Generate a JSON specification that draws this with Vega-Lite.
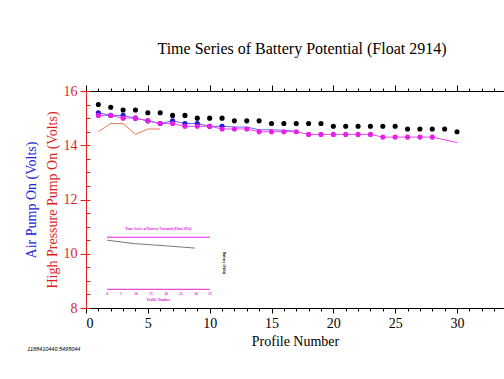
{
  "$schema": "https://vega.github.io/schema/vega-lite/v6.json",
  "autosize": "none",
  "width": 418,
  "height": 217,
  "padding": {"left": 86, "top": 91, "right": 0, "bottom": 71},
  "background": "white",
  "config": {"view": {"stroke": null}, "font": "Liberation Serif"},
  "title": {"text": "Time Series of Battery Potential (Float 2914)", "font": "Liberation Serif", "fontSize": 16, "fontWeight": "normal", "color": "black", "offset": 27, "dx": 7},
  "datasets": {
    "dots": [
      {"series": "black", "profile": 1, "volts": 15.5}, {"series": "black", "profile": 2, "volts": 15.4}, {"series": "black", "profile": 3, "volts": 15.3}, {"series": "black", "profile": 4, "volts": 15.3}, {"series": "black", "profile": 5, "volts": 15.2}, {"series": "black", "profile": 6, "volts": 15.2}, {"series": "black", "profile": 7, "volts": 15.1}, {"series": "black", "profile": 8, "volts": 15.1}, {"series": "black", "profile": 9, "volts": 15.0}, {"series": "black", "profile": 10, "volts": 15.0}, {"series": "black", "profile": 11, "volts": 15.0}, {"series": "black", "profile": 12, "volts": 14.9}, {"series": "black", "profile": 13, "volts": 14.9}, {"series": "black", "profile": 14, "volts": 14.9}, {"series": "black", "profile": 15, "volts": 14.8}, {"series": "black", "profile": 16, "volts": 14.8}, {"series": "black", "profile": 17, "volts": 14.8}, {"series": "black", "profile": 18, "volts": 14.8}, {"series": "black", "profile": 19, "volts": 14.8}, {"series": "black", "profile": 20, "volts": 14.7}, {"series": "black", "profile": 21, "volts": 14.7}, {"series": "black", "profile": 22, "volts": 14.7}, {"series": "black", "profile": 23, "volts": 14.7}, {"series": "black", "profile": 24, "volts": 14.7}, {"series": "black", "profile": 25, "volts": 14.7}, {"series": "black", "profile": 26, "volts": 14.6}, {"series": "black", "profile": 27, "volts": 14.6}, {"series": "black", "profile": 28, "volts": 14.6}, {"series": "black", "profile": 29, "volts": 14.6}, {"series": "black", "profile": 30, "volts": 14.5},
      {"series": "blue", "profile": 1, "volts": 15.2}, {"series": "blue", "profile": 2, "volts": 15.1}, {"series": "blue", "profile": 3, "volts": 15.1}, {"series": "blue", "profile": 4, "volts": 15.0}, {"series": "blue", "profile": 5, "volts": 14.9}, {"series": "blue", "profile": 6, "volts": 14.8}, {"series": "blue", "profile": 7, "volts": 14.9}, {"series": "blue", "profile": 8, "volts": 14.8}, {"series": "blue", "profile": 9, "volts": 14.8}, {"series": "blue", "profile": 10, "volts": 14.7}, {"series": "blue", "profile": 11, "volts": 14.7},
      {"series": "magenta", "profile": 1, "volts": 15.1}, {"series": "magenta", "profile": 2, "volts": 15.1}, {"series": "magenta", "profile": 3, "volts": 15.0}, {"series": "magenta", "profile": 4, "volts": 15.0}, {"series": "magenta", "profile": 5, "volts": 14.9}, {"series": "magenta", "profile": 6, "volts": 14.8}, {"series": "magenta", "profile": 7, "volts": 14.8}, {"series": "magenta", "profile": 8, "volts": 14.7}, {"series": "magenta", "profile": 9, "volts": 14.7}, {"series": "magenta", "profile": 10, "volts": 14.7}, {"series": "magenta", "profile": 11, "volts": 14.6}, {"series": "magenta", "profile": 12, "volts": 14.6}, {"series": "magenta", "profile": 13, "volts": 14.6}, {"series": "magenta", "profile": 14, "volts": 14.5}, {"series": "magenta", "profile": 15, "volts": 14.5}, {"series": "magenta", "profile": 16, "volts": 14.5}, {"series": "magenta", "profile": 17, "volts": 14.5}, {"series": "magenta", "profile": 18, "volts": 14.4}, {"series": "magenta", "profile": 19, "volts": 14.4}, {"series": "magenta", "profile": 20, "volts": 14.4}, {"series": "magenta", "profile": 21, "volts": 14.4}, {"series": "magenta", "profile": 22, "volts": 14.4}, {"series": "magenta", "profile": 23, "volts": 14.4}, {"series": "magenta", "profile": 24, "volts": 14.3}, {"series": "magenta", "profile": 25, "volts": 14.3}, {"series": "magenta", "profile": 26, "volts": 14.3}, {"series": "magenta", "profile": 27, "volts": 14.3}, {"series": "magenta", "profile": 28, "volts": 14.3}
    ],
    "traces": [
      {"series": "orange", "profile": 1, "volts": 14.5}, {"series": "orange", "profile": 2, "volts": 14.8}, {"series": "orange", "profile": 3, "volts": 14.8}, {"series": "orange", "profile": 4, "volts": 14.4}, {"series": "orange", "profile": 5, "volts": 14.6}, {"series": "orange", "profile": 6, "volts": 14.6},
      {"series": "blue", "profile": 1, "volts": 15.2}, {"series": "blue", "profile": 2, "volts": 15.1}, {"series": "blue", "profile": 3, "volts": 15.1}, {"series": "blue", "profile": 4, "volts": 15.0}, {"series": "blue", "profile": 5, "volts": 14.9}, {"series": "blue", "profile": 6, "volts": 14.8}, {"series": "blue", "profile": 7, "volts": 14.9}, {"series": "blue", "profile": 8, "volts": 14.8}, {"series": "blue", "profile": 9, "volts": 14.8}, {"series": "blue", "profile": 10, "volts": 14.7}, {"series": "blue", "profile": 11, "volts": 14.7}, {"series": "blue", "profile": 12, "volts": 14.67}, {"series": "blue", "profile": 13, "volts": 14.67}, {"series": "blue", "profile": 14, "volts": 14.57}, {"series": "blue", "profile": 15, "volts": 14.57}, {"series": "blue", "profile": 16, "volts": 14.55}, {"series": "blue", "profile": 17, "volts": 14.52},
      {"series": "magenta", "profile": 1, "volts": 15.1}, {"series": "magenta", "profile": 2, "volts": 15.1}, {"series": "magenta", "profile": 3, "volts": 15.0}, {"series": "magenta", "profile": 4, "volts": 15.0}, {"series": "magenta", "profile": 5, "volts": 14.9}, {"series": "magenta", "profile": 6, "volts": 14.8}, {"series": "magenta", "profile": 7, "volts": 14.8}, {"series": "magenta", "profile": 8, "volts": 14.7}, {"series": "magenta", "profile": 9, "volts": 14.7}, {"series": "magenta", "profile": 10, "volts": 14.7}, {"series": "magenta", "profile": 11, "volts": 14.6}, {"series": "magenta", "profile": 12, "volts": 14.6}, {"series": "magenta", "profile": 13, "volts": 14.6}, {"series": "magenta", "profile": 14, "volts": 14.5}, {"series": "magenta", "profile": 15, "volts": 14.5}, {"series": "magenta", "profile": 16, "volts": 14.5}, {"series": "magenta", "profile": 17, "volts": 14.5}, {"series": "magenta", "profile": 18, "volts": 14.4}, {"series": "magenta", "profile": 19, "volts": 14.4}, {"series": "magenta", "profile": 20, "volts": 14.4}, {"series": "magenta", "profile": 21, "volts": 14.4}, {"series": "magenta", "profile": 22, "volts": 14.4}, {"series": "magenta", "profile": 23, "volts": 14.4}, {"series": "magenta", "profile": 24, "volts": 14.3}, {"series": "magenta", "profile": 25, "volts": 14.3}, {"series": "magenta", "profile": 26, "volts": 14.3}, {"series": "magenta", "profile": 27, "volts": 14.3}, {"series": "magenta", "profile": 28, "volts": 14.3}, {"series": "magenta", "profile": 30, "volts": 14.1}
    ],
    "insetRules": [
      {"x": 1.7, "x2": 10.02, "y": 10.61},
      {"x": 1.7, "x2": 10.02, "y": 8.69}
    ],
    "insetLine": [
      {"x": 1.7, "y": 10.5}, {"x": 4.0, "y": 10.37}, {"x": 6.5, "y": 10.29}, {"x": 8.8, "y": 10.21}
    ],
    "insetLabels": [
      {"x": 1.70, "y": 8.5, "label": "0"}, {"x": 2.83, "y": 8.5, "label": "5"}, {"x": 4.04, "y": 8.5, "label": "10"}, {"x": 5.25, "y": 8.5, "label": "15"}, {"x": 6.47, "y": 8.5, "label": "20"}, {"x": 7.68, "y": 8.5, "label": "25"}, {"x": 8.89, "y": 8.5, "label": "30"}, {"x": 10.02, "y": 8.5, "label": "35"},
      {"x": 5.86, "y": 8.28, "label": "Profile Number"},
      {"x": 5.86, "y": 10.92, "label": "Time Series of Battery Potential (Float 2914)"}
    ],
    "notes": [
      {"x": 11.16, "y": 9.65, "label": "Battery (Volts)", "kind": "vertical"},
      {"x": -2.6, "y": 6.48, "label": "1188410440.5495044", "kind": "stamp"}
    ]
  },
  "resolve": {"axis": {"x": "independent", "y": "independent"}},
  "layer": [
    {
      "data": {"name": "traces"},
      "transform": [{"filter": "datum.series === 'orange'"}],
      "mark": {"type": "line", "strokeWidth": 1, "color": "#f07858"},
      "encoding": {
        "x": {"field": "profile", "type": "quantitative", "scale": {"domain": [0, 33.8], "nice": false, "zero": false},
          "axis": {"orient": "top", "values": [0,1,2,3,4,5,6,7,8,9,10,11,12,13,14,15,16,17,18,19,20,21,22,23,24,25,26,27,28,29,30,31,32,33], "labels": false, "title": null, "grid": false, "tickSize": 3, "tickColor": "black", "domainColor": "black"}},
        "y": {"field": "volts", "type": "quantitative", "scale": {"domain": [8, 16], "nice": false, "zero": false},
          "axis": {"orient": "left", "values": [8,8.5,9,9.5,10,10.5,11,11.5,12,12.5,13,13.5,14,14.5,15,15.5,16], "labels": false, "tickSize": -4, "tickColor": "#dc1e1e", "domainColor": "#dc1e1e", "grid": false, "title": "Air Pump On (Volts)", "titleColor": "#2222dd", "titleFont": "Liberation Serif", "titleFontSize": 14, "titleFontWeight": "normal", "titlePadding": 47}}
      }
    },
    {
      "data": {"name": "traces"},
      "transform": [{"filter": "datum.series === 'blue'"}],
      "mark": {"type": "line", "strokeWidth": 1, "color": "#6a5cff"},
      "encoding": {
        "x": {"field": "profile", "type": "quantitative", "scale": {"domain": [0, 33.8], "nice": false, "zero": false},
          "axis": {"orient": "top", "values": [0,5,10,15,20,25,30], "labels": false, "title": null, "grid": false, "tickSize": 6, "tickColor": "black", "domainColor": "black"}},
        "y": {"field": "volts", "type": "quantitative", "axis": null}
      }
    },
    {
      "data": {"name": "traces"},
      "transform": [{"filter": "datum.series === 'magenta'"}],
      "mark": {"type": "line", "strokeWidth": 1, "color": "#f040f0"},
      "encoding": {
        "x": {"field": "profile", "type": "quantitative",
          "axis": {"orient": "bottom", "values": [0,1,2,3,4,5,6,7,8,9,10,11,12,13,14,15,16,17,18,19,20,21,22,23,24,25,26,27,28,29,30,31,32,33], "labels": false, "title": null, "grid": false, "tickSize": 3, "tickColor": "black", "domainColor": "black"}},
        "y": {"field": "volts", "type": "quantitative", "axis": null}
      }
    },
    {
      "data": {"name": "dots"},
      "transform": [{"filter": "datum.series === 'blue'"}],
      "mark": {"type": "circle", "size": 26, "opacity": 1, "color": "#1a1ad8"},
      "encoding": {
        "x": {"field": "profile", "type": "quantitative", "axis": null},
        "y": {"field": "volts", "type": "quantitative", "axis": null}
      }
    },
    {
      "data": {"name": "dots"},
      "transform": [{"filter": "datum.series === 'magenta'"}],
      "mark": {"type": "circle", "size": 26, "opacity": 1, "color": "#e61ee6"},
      "encoding": {
        "x": {"field": "profile", "type": "quantitative", "axis": null},
        "y": {"field": "volts", "type": "quantitative", "axis": null}
      }
    },
    {
      "data": {"name": "dots"},
      "transform": [{"filter": "datum.series === 'black'"}],
      "mark": {"type": "circle", "size": 26, "opacity": 1, "color": "black"},
      "encoding": {
        "x": {"field": "profile", "type": "quantitative",
          "axis": {"orient": "bottom", "values": [0,5,10,15,20,25,30], "title": "Profile Number", "grid": false, "tickSize": 5, "tickColor": "black", "domainColor": "black", "labelFont": "Liberation Serif", "labelFontSize": 14, "labelColor": "black", "labelPadding": 3, "titleFont": "Liberation Serif", "titleFontSize": 14, "titleFontWeight": "normal", "titleColor": "black", "titlePadding": 4}},
        "y": {"field": "volts", "type": "quantitative",
          "axis": {"orient": "left", "values": [8,10,12,14,16], "title": "High Pressure Pump On (Volts)", "grid": false, "tickSize": 6, "tickColor": "#dc1e1e", "domainColor": "#dc1e1e", "labelFont": "Liberation Serif", "labelFontSize": 14, "labelColor": "#dc1e1e", "labelPadding": 3, "titleFont": "Liberation Serif", "titleFontSize": 14, "titleFontWeight": "normal", "titleColor": "#dc1e1e", "titlePadding": 4}}
      }
    },
    {
      "data": {"name": "insetRules"},
      "mark": {"type": "rule", "color": "#e020e0", "strokeWidth": 1},
      "encoding": {
        "x": {"field": "x", "type": "quantitative", "axis": null},
        "x2": {"field": "x2"},
        "y": {"field": "y", "type": "quantitative", "axis": null}
      }
    },
    {
      "data": {"name": "insetLine"},
      "mark": {"type": "line", "color": "#555555", "strokeWidth": 0.8},
      "encoding": {
        "x": {"field": "x", "type": "quantitative", "axis": null},
        "y": {"field": "y", "type": "quantitative", "axis": null}
      }
    },
    {
      "data": {"name": "insetLabels"},
      "mark": {"type": "text", "color": "#e020e0", "fontSize": 3.5, "fontWeight": "bold", "font": "Liberation Serif"},
      "encoding": {
        "x": {"field": "x", "type": "quantitative", "axis": null},
        "y": {"field": "y", "type": "quantitative", "axis": null},
        "text": {"field": "label"}
      }
    },
    {
      "data": {"name": "notes"},
      "transform": [{"filter": "datum.kind === 'vertical'"}],
      "mark": {"type": "text", "color": "black", "fontSize": 3.5, "angle": 90, "fontWeight": "bold", "clip": false},
      "encoding": {
        "x": {"field": "x", "type": "quantitative", "axis": null},
        "y": {"field": "y", "type": "quantitative", "axis": null},
        "text": {"field": "label"}
      }
    },
    {
      "data": {"name": "notes"},
      "transform": [{"filter": "datum.kind === 'stamp'"}],
      "mark": {"type": "text", "color": "black", "fontSize": 5.5, "fontStyle": "italic", "font": "Liberation Sans", "clip": false},
      "encoding": {
        "x": {"field": "x", "type": "quantitative", "axis": null},
        "y": {"field": "y", "type": "quantitative", "axis": null},
        "text": {"field": "label"}
      }
    }
  ]
}
